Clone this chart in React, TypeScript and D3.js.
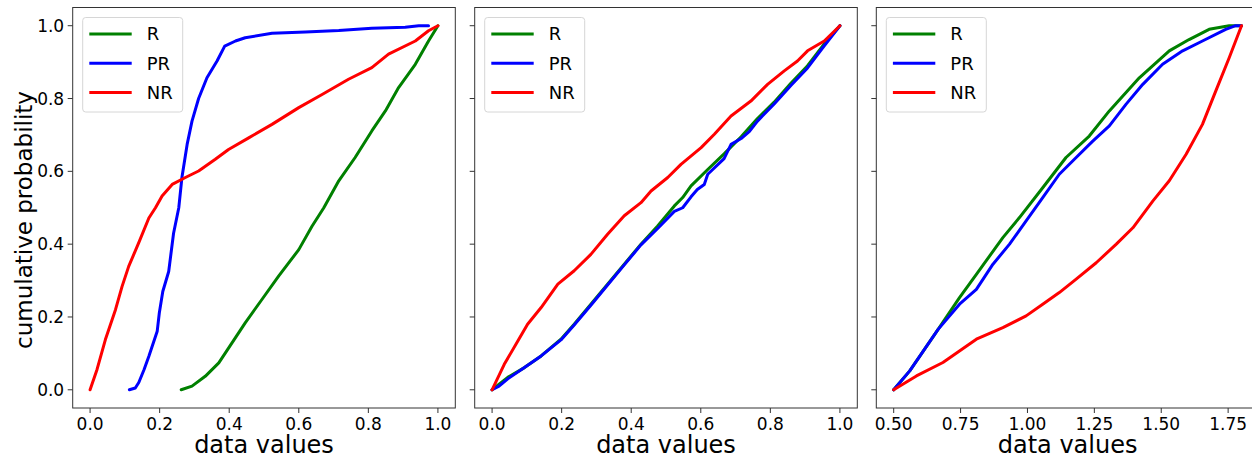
import React from "react";
import * as d3 from "d3";

type Pt = [number, number];

const seriesNames = ["R", "PR", "NR"];
const seriesColors = ["#008000", "#0000ff", "#ff0000"];

// Panel 1 (x: 0..1)
const p1R: Pt[] = [[0.262,0],[0.293,0.01],[0.331,0.037],[0.37,0.074],[0.408,0.129],[0.446,0.184],[0.494,0.248],[0.542,0.312],[0.6,0.385],[0.638,0.449],[0.672,0.5],[0.715,0.574],[0.762,0.638],[0.81,0.711],[0.849,0.766],[0.887,0.83],[0.935,0.894],[0.973,0.958],[1.0,1.0]];
const p1PR: Pt[] = [[0.113,0],[0.13,0.005],[0.14,0.02],[0.155,0.055],[0.169,0.092],[0.193,0.161],[0.199,0.211],[0.209,0.27],[0.226,0.325],[0.24,0.43],[0.255,0.5],[0.264,0.583],[0.279,0.674],[0.293,0.738],[0.312,0.8],[0.336,0.857],[0.365,0.903],[0.387,0.944],[0.418,0.958],[0.446,0.967],[0.523,0.979],[0.619,0.983],[0.715,0.987],[0.81,0.993],[0.906,0.996],[0.945,1.0],[0.973,1.0]];
const p1NR: Pt[] = [[0,0],[0.02,0.056],[0.044,0.138],[0.073,0.22],[0.092,0.284],[0.111,0.339],[0.14,0.404],[0.169,0.472],[0.188,0.5],[0.207,0.532],[0.236,0.564],[0.274,0.583],[0.312,0.601],[0.36,0.633],[0.398,0.66],[0.456,0.692],[0.523,0.729],[0.6,0.775],[0.667,0.811],[0.743,0.853],[0.81,0.885],[0.858,0.922],[0.935,0.958],[0.973,0.986],[1.0,1.0]];

// Panel 2 (x: 0..1)
const p2R: Pt[] = [[0,0],[0.045,0.034],[0.093,0.061],[0.141,0.093],[0.198,0.139],[0.236,0.18],[0.284,0.235],[0.332,0.29],[0.38,0.345],[0.428,0.4],[0.476,0.45],[0.524,0.505],[0.548,0.528],[0.572,0.56],[0.62,0.605],[0.667,0.648],[0.716,0.695],[0.763,0.745],[0.811,0.79],[0.859,0.842],[0.907,0.89],[0.955,0.95],[1.0,1.0]];
const p2PR: Pt[] = [[0,0],[0.02,0.01],[0.045,0.03],[0.093,0.061],[0.141,0.093],[0.198,0.137],[0.236,0.178],[0.284,0.232],[0.332,0.288],[0.38,0.343],[0.428,0.398],[0.476,0.443],[0.524,0.49],[0.548,0.5],[0.572,0.53],[0.59,0.55],[0.61,0.564],[0.62,0.592],[0.667,0.635],[0.687,0.674],[0.716,0.69],[0.74,0.71],[0.763,0.738],[0.811,0.785],[0.859,0.836],[0.907,0.884],[0.955,0.945],[1.0,1.0]];
const p2NR: Pt[] = [[0,0],[0.035,0.07],[0.074,0.134],[0.102,0.18],[0.141,0.226],[0.189,0.29],[0.236,0.327],[0.284,0.372],[0.332,0.427],[0.38,0.478],[0.428,0.514],[0.457,0.546],[0.505,0.583],[0.543,0.619],[0.601,0.665],[0.639,0.702],[0.687,0.752],[0.744,0.793],[0.792,0.839],[0.84,0.876],[0.878,0.903],[0.907,0.931],[0.955,0.958],[1.0,1.0]];

// Panel 3 (x: 0.5..1.8)
const p3R: Pt[] = [[0.5,0],[0.56,0.052],[0.666,0.166],[0.746,0.253],[0.809,0.317],[0.908,0.418],[0.97,0.473],[1.057,0.555],[1.144,0.638],[1.231,0.697],[1.306,0.766],[1.418,0.857],[1.53,0.931],[1.604,0.962],[1.679,0.99],[1.754,1.0],[1.8,1.0]];
const p3PR: Pt[] = [[0.5,0],[0.56,0.052],[0.666,0.166],[0.746,0.235],[0.809,0.276],[0.871,0.345],[0.933,0.4],[0.995,0.464],[1.057,0.528],[1.119,0.592],[1.182,0.638],[1.244,0.683],[1.306,0.725],[1.368,0.784],[1.431,0.839],[1.505,0.894],[1.58,0.931],[1.654,0.958],[1.741,0.99],[1.778,1.0],[1.8,1.0]];
const p3NR: Pt[] = [[0.5,0],[0.585,0.038],[0.684,0.075],[0.809,0.139],[0.908,0.171],[0.995,0.203],[1.057,0.235],[1.119,0.267],[1.182,0.304],[1.257,0.349],[1.332,0.4],[1.394,0.445],[1.469,0.519],[1.53,0.574],[1.593,0.647],[1.654,0.729],[1.704,0.821],[1.754,0.912],[1.8,1.0]];

const yTicks = [0, 0.2, 0.4, 0.6, 0.8, 1.0];
const xTicksUnit = [0, 0.2, 0.4, 0.6, 0.8, 1.0];
const xTicksWide = [0.5, 0.75, 1.0, 1.25, 1.5, 1.75];

const panels = [
  { series: [p1R, p1PR, p1NR], ticks: xTicksUnit, fmt: d3.format(".1f"), domain: [-0.05, 1.05], showY: true },
  { series: [p2R, p2PR, p2NR], ticks: xTicksUnit, fmt: d3.format(".1f"), domain: [-0.05, 1.05], showY: false },
  { series: [p3R, p3PR, p3NR], ticks: xTicksWide, fmt: d3.format(".2f"), domain: [0.435, 1.865], showY: false },
];

const W = 1252, H = 458;
const panelLefts = [72.7, 474.7, 876.3];
const panelW = 382.6;
const top = 7.5, panelH = 400.5;
const font = "DejaVu Sans, sans-serif";

export default function App() {
  const y = d3.scaleLinear().domain([-0.05, 1.05]).range([top + panelH, top]);
  return (
    <svg width={W} height={H} style={{ position: "absolute", left: 0, top: 0 }} fontFamily={font}>
      <rect width={W} height={H} fill="#fff" />
      {panels.map((p, pi) => {
        const left = panelLefts[pi];
        const x = d3.scaleLinear().domain(p.domain).range([left, left + panelW]);
        const line = d3.line<Pt>().x(d => x(d[0])).y(d => y(d[1]));
        const bottom = top + panelH;
        return (
          <g key={pi}>
            <defs>
              <clipPath id={`clip${pi}`}>
                <rect x={left} y={top} width={panelW} height={panelH} />
              </clipPath>
            </defs>
            <g clipPath={`url(#clip${pi})`}>
              {p.series.map((s, si) => (
                <path key={si} d={line(s) || ""} fill="none" stroke={seriesColors[si]} strokeWidth={3} strokeLinejoin="round" strokeLinecap="round" />
              ))}
            </g>
            <rect x={left} y={top} width={panelW} height={panelH} fill="none" stroke="#333" strokeWidth={1} />
            {p.ticks.map((t, ti) => (
              <g key={ti}>
                <line x1={x(t)} x2={x(t)} y1={bottom} y2={bottom + 5} stroke="#333" strokeWidth={1} />
                <text x={x(t)} y={bottom + 22} textAnchor="middle" fontSize={17} fill="#000">{p.fmt(t)}</text>
              </g>
            ))}
            {yTicks.map((t, ti) => (
              <g key={ti}>
                <line x1={left - 5} x2={left} y1={y(t)} y2={y(t)} stroke="#333" strokeWidth={1} />
                {p.showY && (
                  <text x={left - 8.5} y={y(t)} dy="0.36em" textAnchor="end" fontSize={17} fill="#000">{d3.format(".1f")(t)}</text>
                )}
              </g>
            ))}
            <text x={left + panelW / 2} y={453} textAnchor="middle" fontSize={24} fill="#000">data values</text>
            <g>
              <rect x={left + 10} y={top + 10} width={100} height={94.5} rx={3} fill="#fff" fillOpacity={0.8} stroke="#d6d6d6" strokeWidth={1} />
              {seriesNames.map((n, si) => (
                <g key={si}>
                  <line x1={left + 16.6} x2={left + 59} y1={34 + si * 29.3} y2={34 + si * 29.3} stroke={seriesColors[si]} strokeWidth={3} />
                  <text x={left + 74} y={34 + si * 29.3} dy="0.36em" fontSize={18} fill="#000">{n}</text>
                </g>
              ))}
            </g>
          </g>
        );
      })}
      <text transform={`translate(31.5, 220) rotate(-90)`} textAnchor="middle" fontSize={23} fill="#000">cumulative probability</text>
    </svg>
  );
}
